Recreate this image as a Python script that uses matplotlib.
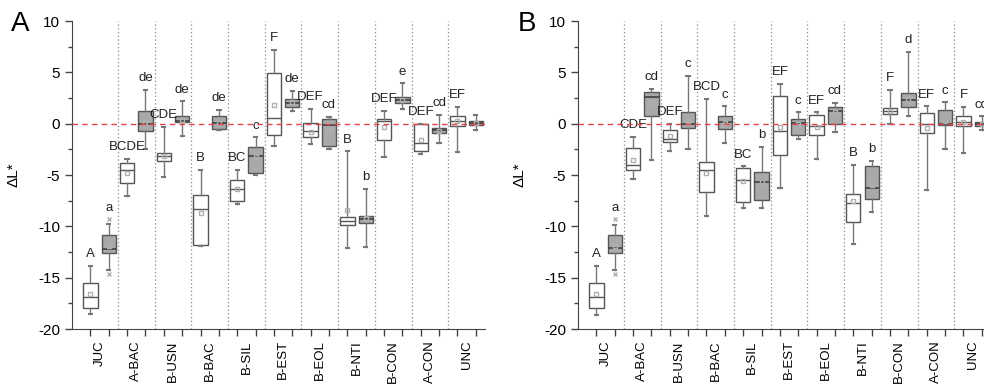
import numpy as np
import matplotlib.pyplot as plt

plt.rcParams['font.family'] = ['Liberation Sans', 'DejaVu Sans']
plt.rcParams['axes.unicode_minus'] = False

# Treatments (x axis)
cats = ["JUC", "A-BAC", "B-USN", "B-BAC", "B-SIL", "B-EST",
        "B-EOL", "B-NTI", "B-CON", "A-CON", "UNC"]

# Panel A - white boxes
a_w_hi = [-13.85, -3.4, -0.32, -4.47, -4.47, 7.18, 1.46, -2.69, 1.29, 0.0, 1.68]
a_w_q3 = [-15.47, -3.82, -2.85, -6.96, -5.5, 4.92, 0.06, -9.06, 0.48, -0.06, 0.78]
a_w_med = [-16.92, -4.53, -3.17, -8.35, -6.35, 0.55, -0.74, -9.5, 0.3, -1.85, 0.23]
a_w_q1 = [-17.96, -5.76, -3.6, -11.8, -7.54, -1.13, -1.33, -9.87, -1.55, -2.69, -0.26]
a_w_lo = [-18.5, -7.06, -5.2, -11.9, -7.86, -2.13, -1.97, -12.1, -3.23, -2.95, -2.78]
a_w_mean = [-16.6, -4.8, -3.1, -8.7, -6.4, 1.85, -0.8, -8.4, -0.3, -1.6, 0.3]
a_w_let = ["A", "BCDE", "CDE", "B", "BC", "F", "DEF", "B", "DEF", "DEF", "EF"]

# Panel A - gray boxes
a_g_hi = [-9.8, 3.3, 2.2, 1.36, -1.33, 3.2, 0.65, -6.35, 3.95, 0.9, 0.87]
a_g_q3 = [-10.84, 1.2, 0.71, 0.71, -2.3, 2.4, 0.48, -9.0, 2.65, -0.45, 0.23]
a_g_med = [-12.17, 0.0, 0.29, 0.06, -3.1, 2.07, -0.16, -9.3, 2.33, -0.65, 0.06]
a_g_q1 = [-12.6, -0.74, 0.13, -0.52, -4.8, 1.68, -2.13, -9.7, 2.0, -0.9, -0.1]
a_g_lo = [-14.2, -2.46, -1.23, -0.65, -4.95, 1.2, -2.43, -12.0, 1.46, -1.85, -0.58]
a_g_mean = [-11.9, 0.2, 0.4, 0.1, -3.2, 2.1, -0.6, -9.2, 2.3, -0.7, 0.05]
a_g_let = ["a", "de", "de", "de", "c", "de", "cd", "b", "e", "cd", ""]

# Panel B - white boxes
b_w_hi = [-13.85, -1.29, 0.0, 2.43, -4.14, 3.88, 1.13, -3.98, 3.33, 1.71, 1.62]
b_w_q3 = [-15.47, -2.36, -0.65, -3.72, -4.3, 2.69, 0.9, -6.86, 1.52, 1.07, 0.74]
b_w_med = [-16.9, -3.98, -1.46, -4.47, -5.5, -0.74, -0.26, -7.67, 1.23, 0.0, 0.16]
b_w_q1 = [-17.96, -4.47, -1.78, -6.63, -7.6, -3.07, -1.13, -9.6, 0.97, -0.87, -0.26]
b_w_lo = [-18.67, -5.4, -2.7, -8.96, -8.25, -6.3, -3.46, -11.75, 0.0, -6.47, -2.8]
b_w_mean = [-16.6, -3.5, -1.2, -4.8, -5.6, -0.3, -0.3, -7.5, 1.25, -0.4, 0.2]
b_w_let = ["A", "CDE", "DEF", "BCD", "BC", "EF", "EF", "B", "F", "EF", "F"]

# Panel B - gray boxes
b_g_hi = [-9.87, 3.4, 4.69, 1.71, -2.27, 1.13, 2.04, -3.62, 7.02, 2.1, 0.74]
b_g_q3 = [-10.84, 3.07, 1.13, 0.74, -4.7, 0.49, 1.68, -4.1, 2.98, 1.39, 0.2]
b_g_med = [-12.1, 2.59, 0.0, 0.16, -5.66, 0.06, 1.29, -6.3, 2.36, -0.06, 0.0]
b_g_q1 = [-12.6, 0.74, -0.39, -0.55, -7.38, -1.07, 0.0, -7.35, 1.68, -0.16, -0.2]
b_g_lo = [-14.2, -3.5, -2.43, -1.88, -8.25, -1.52, -0.8, -8.57, 0.74, -2.43, -0.65]
b_g_mean = [-11.9, 2.0, 0.3, 0.1, -5.7, 0.0, 1.1, -6.0, 2.4, 0.3, 0.0]
b_g_let = ["a", "cd", "c", "c", "b", "c", "cd", "b", "d", "c", "cd"]

# outliers of the JUC gray box (same in both panels)
juc_fliers = [-9.3, -14.6]


def make_stats(lo, q1, med, q3, hi, mean, fliers=None):
    stats = []
    for i in range(len(med)):
        f = fliers if (fliers is not None and i == 0) else []
        stats.append(dict(whislo=lo[i], q1=q1[i], med=med[i], q3=q3[i],
                          whishi=hi[i], mean=mean[i], fliers=np.array(f)))
    return stats


def draw_panel(ax, white, gray, let_w, let_g):
    n = len(cats)
    pos_w = np.arange(n) * 2 + 1
    pos_g = np.arange(n) * 2 + 2

    for xs in np.arange(n - 1) * 2 + 2.5:
        ax.axvline(xs, color="#8a8a8a", ls=(0, (1, 2)), lw=0.9, zorder=1)

    common = dict(widths=0.78, capwidths=0.18, patch_artist=True,
                  showmeans=True, showfliers=True, manage_ticks=False,
                  whiskerprops=dict(color="#777777", lw=1),
                  capprops=dict(color="#777777", lw=1.5),
                  meanprops=dict(marker="s", markersize=3.5,
                                 markerfacecolor="none",
                                 markeredgecolor="#b0b0b0"),
                  flierprops=dict(marker="x", markersize=3.5,
                                  markeredgecolor="#b0b0b0"))
    ax.bxp(white, positions=pos_w,
           boxprops=dict(facecolor="white", edgecolor="#555555", lw=1),
           medianprops=dict(color="#555555", lw=1), **common)
    ax.bxp(gray, positions=pos_g,
           boxprops=dict(facecolor="#a9a9a9", edgecolor="#555555", lw=1),
           medianprops=dict(color="#404040", lw=1.2), **common)

    ax.axhline(0, color="#e04848", ls=(0, (4, 3)), lw=1, zorder=4)

    # significance letters
    for st, p, lab in zip(white + gray, list(pos_w) + list(pos_g), let_w + let_g):
        top = max([st["whishi"]] + list(st["fliers"]))
        ax.text(p, top + 0.55, lab, ha="center", va="bottom", fontsize=9.5,
                color="#222222")

    ax.set_xlim(0, 22.5)
    ax.set_ylim(-20, 10)
    ax.set_xticks(np.arange(n) * 2 + 1.5)
    ax.set_xticklabels(cats, rotation=90, fontsize=9.5)
    ax.set_xticks(np.arange(1, 2 * n + 1), minor=True)
    ax.tick_params(axis="x", which="major", length=0, pad=8)
    ax.tick_params(axis="x", which="minor", length=5, width=1,
                   direction="out", color="#444444")
    ax.set_yticks(np.arange(-20, 11, 5))
    ax.set_yticks(np.arange(-17.5, 10, 5), minor=True)
    ax.tick_params(axis="y", which="major", length=5, width=1,
                   labelsize=11, color="#444444")
    ax.tick_params(axis="y", which="minor", length=3, width=1,
                   color="#444444")
    for s in ["top", "right"]:
        ax.spines[s].set_visible(False)
    for s in ["left", "bottom"]:
        ax.spines[s].set_color("#444444")
    ax.set_ylabel("ΔL*", fontsize=11)
    ax.yaxis.set_label_coords(-0.125, 0.5)


fig = plt.figure(figsize=(9.84, 3.84), dpi=100)
axA = fig.add_axes([0.0732, 0.143, 0.4197, 0.802])
axB = fig.add_axes([0.5874, 0.143, 0.4197, 0.802])

draw_panel(axA,
           make_stats(a_w_lo, a_w_q1, a_w_med, a_w_q3, a_w_hi, a_w_mean),
           make_stats(a_g_lo, a_g_q1, a_g_med, a_g_q3, a_g_hi, a_g_mean, juc_fliers),
           a_w_let, a_g_let)
draw_panel(axB,
           make_stats(b_w_lo, b_w_q1, b_w_med, b_w_q3, b_w_hi, b_w_mean),
           make_stats(b_g_lo, b_g_q1, b_g_med, b_g_q3, b_g_hi, b_g_mean, juc_fliers),
           b_w_let, b_g_let)

fig.text(20 / 984, 1 - 24 / 384, "A", fontsize=20, ha="center", va="center")
fig.text(527 / 984, 1 - 24 / 384, "B", fontsize=20, ha="center", va="center")

fig.savefig("out.png", dpi=100)
